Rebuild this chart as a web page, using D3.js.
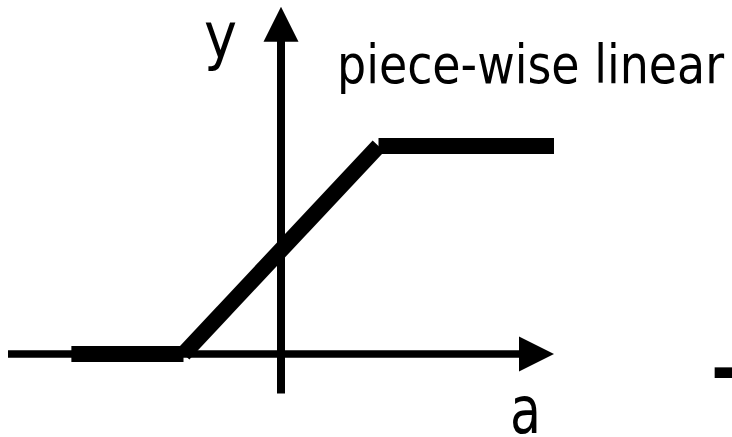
<!DOCTYPE html>
<html><head><meta charset="utf-8">
<script src="https://cdn.jsdelivr.net/npm/d3@7"></script>
<style>html,body{margin:0;padding:0;background:#fff;}svg{display:block;}</style>
</head><body>
<script>
// Piece-wise linear activation: y = clamp((a+1)/2, 0, 1)
const segA = [[-2.15, -1], [-1, 1], [1, 2.8]];   // a-intervals of each piece
const segY = [[0, 0], [0, 1], [1, 1]];           // y-values at ends of each piece
const axisA = [-2.8, 2.8];
const axisY = [-0.19, 1.67];
const labels = ["y", "piece-wise linear", "a", "-"];

const W = 732, H = 437;
const svg = d3.select("body").append("svg").attr("width", W).attr("height", H);

const x = d3.scaleLinear().domain([-1, 1]).range([183.5, 378.5]);
const y = d3.scaleLinear().domain([0, 1]).range([354, 146]);

// axes
const arrowLen = 35, arrowHalf = 17.5;
svg.append("line")
  .attr("x1", x(axisA[0])).attr("x2", x(axisA[1]) - arrowLen + 2)
  .attr("y1", y(0)).attr("y2", y(0))
  .attr("stroke", "#000").attr("stroke-width", 7.5);
svg.append("path")
  .attr("d", `M${x(axisA[1])},${y(0)} L${x(axisA[1]) - arrowLen},${y(0) - arrowHalf} L${x(axisA[1]) - arrowLen},${y(0) + arrowHalf} Z`)
  .attr("fill", "#000");
svg.append("line")
  .attr("x1", x(0)).attr("x2", x(0))
  .attr("y1", y(axisY[0])).attr("y2", y(axisY[1]) + arrowLen - 2)
  .attr("stroke", "#000").attr("stroke-width", 8);
svg.append("path")
  .attr("d", `M${x(0)},${y(axisY[1])} L${x(0) - arrowHalf},${y(axisY[1]) + arrowLen} L${x(0) + arrowHalf},${y(axisY[1]) + arrowLen} Z`)
  .attr("fill", "#000");

// function pieces
const line = d3.line().x(d => x(d[0])).y(d => y(d[1]));
segA.forEach((s, i) => {
  svg.append("path")
    .attr("d", line([[s[0], segY[i][0]], [s[1], segY[i][1]]]))
    .attr("stroke", "#000").attr("stroke-width", 16)
    .attr("stroke-linecap", "butt").attr("fill", "none");
});

const font = "'DejaVu Sans Condensed', 'DejaVu Sans', Verdana, sans-serif";
svg.append("text").text(labels[0]).attr("x", 204).attr("y", 58)
  .attr("font-family", font).attr("font-size", 64)
  .attr("textLength", 33).attr("lengthAdjust", "spacingAndGlyphs");
svg.append("text").text(labels[1]).attr("x", 337).attr("y", 83)
  .attr("font-family", font).attr("font-size", 53)
  .attr("textLength", 387).attr("lengthAdjust", "spacingAndGlyphs");
svg.append("text").text(labels[2]).attr("x", 510).attr("y", 433)
  .attr("font-family", font).attr("font-size", 66)
  .attr("textLength", 31).attr("lengthAdjust", "spacingAndGlyphs");
svg.append("text").text(labels[3]).attr("x", 711).attr("y", 394)
  .attr("font-family", font).attr("font-size", 75).attr("font-weight", "bold");
</script>
</body></html>
